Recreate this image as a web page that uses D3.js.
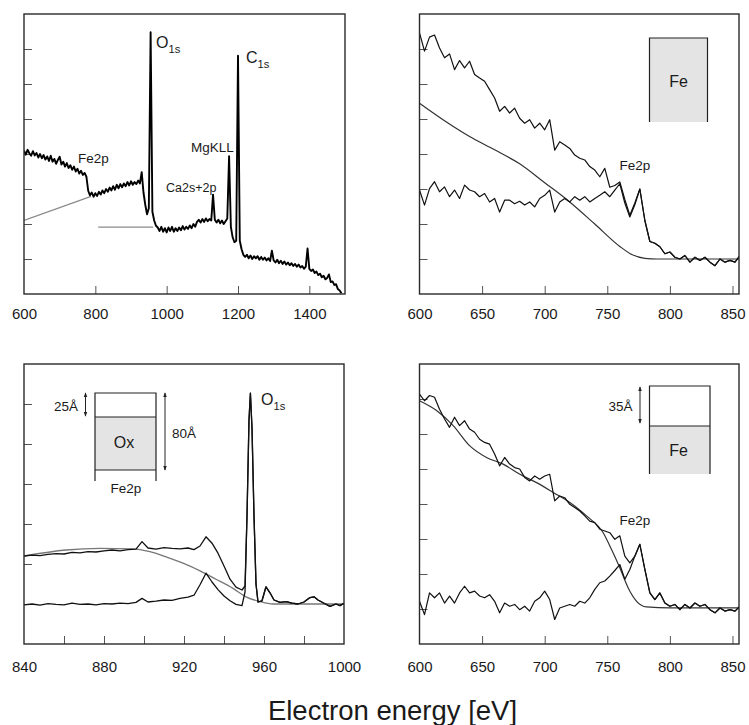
<!DOCTYPE html>
<html>
<head>
<meta charset="utf-8">
<script src="https://cdn.jsdelivr.net/npm/d3@7"></script>
<style>
  body { margin: 0; background: #fff; }
  svg text { font-family: "Liberation Sans", Arial, Helvetica, sans-serif; fill: #1a1a1a; }
</style>
</head>
<body>
<svg id="chart" width="749" height="725"></svg>
<script>
// ---------- data ----------

// survey spectrum, 600..1490 eV every 5 eV
const surveyStart = 600, surveyStep = 5;
const surveyCounts = [
  4.10,3.98,4.12,4.02,3.95,4.08,3.96,4.03,3.90,4.00,
  3.88,3.97,3.84,3.93,3.80,3.95,3.78,3.86,3.72,3.83,
  3.92,3.70,3.78,3.64,3.74,3.60,3.68,3.55,3.64,3.50,
  3.58,3.44,3.52,3.40,3.46,3.35,2.95,2.82,2.90,2.78,
  2.88,2.80,2.92,2.84,2.96,2.88,3.00,2.92,3.04,2.96,
  3.08,2.98,3.12,3.02,3.14,3.05,3.16,3.08,3.20,3.10,
  3.22,3.12,3.20,3.14,3.24,3.16,3.48,2.90,2.55,2.28,
  2.45,7.48,2.35,2.10,1.95,1.90,1.80,1.92,1.78,1.88,
  1.76,1.90,1.80,1.92,1.78,1.88,1.80,1.90,1.82,1.94,
  1.84,1.92,1.86,1.96,1.88,2.00,1.92,2.06,2.12,2.04,
  2.14,2.06,2.16,2.08,2.14,2.10,2.84,2.12,2.04,2.12,
  2.02,2.10,2.00,2.08,2.16,3.94,1.92,1.62,1.48,1.52,
  6.81,1.52,1.28,1.12,1.06,1.12,1.02,1.10,1.00,1.08,
  1.02,1.08,0.98,1.06,0.98,1.04,0.96,1.02,0.94,1.24,
  0.96,0.90,0.98,0.88,0.95,0.86,0.93,0.84,0.90,0.82,
  0.88,0.80,0.86,0.78,0.84,0.76,0.80,0.72,0.78,1.30,
  0.72,0.66,0.70,0.60,0.64,0.54,0.58,0.48,0.52,0.42,
  0.46,0.56,0.34,0.36,0.26,0.28,0.14,0.10,0.02
];
const surveyBgSlope = [[600, 2.10], [788, 2.79]];
const surveyBgFlat = [[808, 1.91], [962, 1.91]];

// Fe2p windows, 600..856 eV every 4 eV
const fe2pStart = 600, fe2pStep = 4;
const bareFeUpper = [
  7.46,6.94,7.34,7.40,7.03,6.75,6.86,6.41,6.67,6.46,
  6.65,6.27,6.17,6.08,5.84,5.60,5.22,5.36,5.17,5.31,
  5.02,4.88,4.98,4.74,4.88,4.69,4.98,4.11,4.35,4.26,
  4.16,3.97,3.88,3.83,3.64,3.54,3.35,3.59,3.05,3.10,
  3.20,2.70,2.25,2.60,3.00,2.10,1.50,1.45,1.35,1.15,
  1.20,1.05,1.00,1.10,0.91,1.05,0.96,1.05,0.91,0.81,
  1.00,0.91,0.96,0.91,1.10
];
const bareFeLower = [
  2.97,2.54,3.01,3.21,2.92,3.06,2.78,2.97,2.73,3.11,
  2.97,2.92,2.78,2.87,2.63,2.73,2.34,2.68,2.68,2.58,
  2.65,2.54,2.63,2.49,2.73,2.82,2.97,2.34,2.63,2.73,
  2.63,2.78,2.68,2.78,2.63,2.73,2.82,2.92,2.78,2.97,
  3.15,2.60,2.20,2.55,3.00,2.10,1.50,1.45,1.35,1.15,
  1.20,1.05,1.00,1.10,0.91,1.05,0.96,1.05,0.91,0.81,
  1.00,0.91,0.96,0.91,1.10
];
const bareFeBackground = [
  [600,5.45],[620,4.95],[640,4.50],[660,4.12],[680,3.72],[700,3.18],
  [720,2.63],[740,2.00],[760,1.36],[770,1.12],[780,1.02],[790,1.00],[856,1.00]
];

const coveredFeUpper = [
  7.14,6.95,7.10,7.05,6.71,6.43,6.19,6.48,6.24,6.38,
  6.14,6.05,5.85,5.76,5.71,5.43,5.09,5.33,5.14,5.04,
  5.00,4.76,4.66,4.80,4.71,4.80,4.85,4.09,4.23,4.18,
  3.99,3.90,3.80,3.66,3.51,3.47,3.28,3.23,3.18,2.99,
  3.09,2.51,2.32,2.51,2.85,2.13,1.46,1.27,1.46,1.17,
  1.08,1.13,0.98,1.13,1.03,1.17,1.08,1.13,0.98,0.89,
  1.03,0.94,0.98,0.94,1.08
];
const coveredFeLower = [
  1.22,0.84,1.46,1.32,1.46,1.17,1.37,1.17,1.46,1.65,
  1.46,1.51,1.37,1.32,1.41,1.22,0.89,1.17,1.08,1.13,
  0.98,1.08,0.94,1.22,1.32,1.51,1.27,0.70,1.03,1.08,
  1.13,1.08,1.22,1.17,1.32,1.56,1.75,1.80,1.94,2.10,
  2.27,1.85,2.13,2.51,2.85,2.13,1.46,1.27,1.46,1.17,
  1.08,1.13,0.98,1.13,1.03,1.17,1.08,1.13,0.98,0.89,
  1.03,0.94,0.98,0.94,1.08
];
const coveredFeBackground = [
  [600,6.95],[613.6,6.67],[626.9,6.24],[640.2,5.66],[653.5,5.33],[666.8,5.14],
  [680.2,4.85],[693.5,4.61],[706.8,4.33],[720.1,4.04],[733.4,3.66],[746.7,3.18],
  [753.4,2.70],[760,2.18],[766.7,1.60],[773.4,1.22],[781.3,1.06],[800,1.03],[856,1.03]
];

// oxide window, [energy, counts]
const oxideUpper = [
  [840,2.20],[844,2.22],[848,2.21],[852,2.24],[856,2.26],[860,2.25],[864,2.29],[868,2.28],
  [872,2.31],[876,2.30],[880,2.33],[884,2.35],[888,2.33],[892,2.36],[896,2.37],[899,2.56],
  [902,2.40],[906,2.37],[910,2.41],[914,2.39],[918,2.38],[922,2.40],[925,2.36],[928,2.45],
  [931,2.68],[934,2.52],[937,2.27],[940,1.95],[943,1.62],[946,1.42],[949,1.35],[950.5,1.45],
  [951.5,3.2],[952.5,5.6],[953.2,6.27],[954,5.4],[955,3.2],[956,1.5],[957,1.05],[959,1.08],
  [961,1.43],[963,1.28],[965,1.10],[968,1.04],[971,1.06],[974,1.02],[977,1.00],[980,1.05],
  [983,1.16],[985,1.18],[987,1.10],[990,1.02],[993,0.94],[996,1.00],[998,0.96],[1000,1.02]
];
const oxideLower = [
  [840,0.98],[844,1.00],[848,0.97],[852,1.01],[856,0.99],[860,0.98],[864,1.02],[868,0.99],
  [872,1.00],[876,0.98],[880,1.01],[884,1.00],[888,1.02],[892,1.01],[896,1.04],[899,1.14],
  [902,1.05],[906,1.07],[910,1.10],[914,1.09],[918,1.14],[922,1.17],[925,1.22],[928,1.48],
  [931,1.77],[934,1.55],[937,1.36],[940,1.20],[943,1.08],[946,0.99],[949,0.96],[950.5,1.30],
  [951.5,3.2],[952.5,5.6],[953.2,6.27],[954,5.4],[955,3.2],[956,1.5],[957,1.05],[959,1.08],
  [961,1.43],[963,1.28],[965,1.10],[968,1.04],[971,1.06],[974,1.02],[977,1.00],[980,1.05],
  [983,1.16],[985,1.18],[987,1.10],[990,1.02],[993,0.94],[996,1.00],[998,0.96],[1000,1.02]
];
const oxideBackground = [
  [840,2.20],[861,2.35],[878,2.39],[894,2.38],[903,2.31],[911,2.18],[919.5,2.02],
  [928,1.83],[936,1.62],[944.5,1.39],[951,1.18],[958,1.06],[964.5,1.00],[1000,1.00]
];

// ticks
const surveyLabels = [600, 800, 1000, 1200, 1400];
const surveyTicks = [800, 1000, 1200, 1400];
const fe2pLabels = [600, 650, 700, 750, 800, 850];
const fe2pTicks = [650, 700, 750, 800, 850];
const oxideLabels = [840, 880, 920, 960, 1000];
const oxideTicks = [860, 880, 900, 920, 940, 960, 980];
const yTicks8 = [1, 2, 3, 4, 5, 6, 7];
const yTicks7 = [1, 2, 3, 4, 5, 6];

// ---------- drawing ----------
const svg = d3.select("#chart");
const defs = svg.append("defs");
defs.append("marker")
  .attr("id", "head")
  .attr("viewBox", "0 0 6 6")
  .attr("refX", 5).attr("refY", 3)
  .attr("markerWidth", 5).attr("markerHeight", 5)
  .attr("markerUnits", "userSpaceOnUse")
  .attr("orient", "auto-start-reverse")
  .append("path").attr("d", "M0,0.8 L6,3 L0,5.2 Z").attr("fill", "#222");

const grid = (start, step, vals) => vals.map((v, i) => [start + i * step, v]);

let clipId = 0;
function panel(o) {
  const g = svg.append("g").attr("transform", `translate(${o.left},${o.top})`);
  const x = d3.scaleLinear().domain(o.xDomain).range([0, o.width]);
  const y = d3.scaleLinear().domain(o.yDomain).range([o.height, 0]);

  // inward tick marks
  const xt = g.append("g").attr("transform", `translate(0,${o.height})`)
    .call(d3.axisBottom(x).tickValues(o.xTicks).tickSizeInner(-8).tickSizeOuter(0).tickFormat(""));
  const yt = g.append("g")
    .call(d3.axisLeft(y).tickValues(o.yTicks).tickSizeInner(-8).tickSizeOuter(0).tickFormat(""));
  [xt, yt].forEach(a => {
    a.select(".domain").remove();
    a.selectAll(".tick line").attr("stroke", "#555").attr("stroke-width", 1);
  });

  // tick labels
  const xl = g.append("g").attr("transform", `translate(0,${o.height})`)
    .call(d3.axisBottom(x).tickValues(o.xLabels).tickSize(0).tickPadding(o.labelPad).tickFormat(d3.format("d")));
  xl.select(".domain").remove();
  xl.selectAll("text").attr("font-size", 15).attr("fill", "#1a1a1a")
    .attr("font-family", "'Liberation Sans', Arial, sans-serif");

  const id = "clip" + (clipId++);
  defs.append("clipPath").attr("id", id)
    .append("rect").attr("width", o.width).attr("height", o.height);
  const plot = g.append("g").attr("clip-path", `url(#${id})`);

  g.append("rect")
    .attr("width", o.width).attr("height", o.height)
    .attr("fill", "none").attr("stroke", "#2a2a2a").attr("stroke-width", 1.4);

  const line = d3.line().x(d => x(d[0])).y(d => y(d[1]));
  const smooth = d3.line().x(d => x(d[0])).y(d => y(d[1])).curve(d3.curveMonotoneX);
  return { g, x, y, plot, line, smooth };
}

function addLine(p, data, color, width, smooth) {
  p.plot.append("path").datum(data)
    .attr("fill", "none").attr("stroke", color).attr("stroke-width", width)
    .attr("stroke-linejoin", "round")
    .attr("d", smooth ? p.smooth : p.line);
}

function subLabel(g, x, y, main, sub, size) {
  const t = g.append("text").attr("x", x).attr("y", y).attr("font-size", size);
  t.append("tspan").text(main);
  t.append("tspan").attr("font-size", size * 0.7).attr("dy", 5).text(sub);
}

function label(g, x, y, txt, size, anchor) {
  g.append("text").attr("x", x).attr("y", y).attr("font-size", size)
    .attr("text-anchor", anchor || "start").text(txt);
}

function vArrow(g, x, y1, y2) {
  g.append("line").attr("x1", x).attr("x2", x).attr("y1", y1).attr("y2", y2)
    .attr("stroke", "#222").attr("stroke-width", 1)
    .attr("marker-start", "url(#head)").attr("marker-end", "url(#head)");
}

// top-left: survey
const tl = panel({ left: 24, top: 14, width: 321, height: 280,
  xDomain: [600, 1500], yDomain: [0, 8], xTicks: surveyTicks, xLabels: surveyLabels,
  yTicks: yTicks8, labelPad: 14 });
addLine(tl, surveyBgSlope, "#8a8a8a", 1.2);
addLine(tl, surveyBgFlat, "#8a8a8a", 1.2);
addLine(tl, grid(surveyStart, surveyStep, surveyCounts), "#000", 1.9);
subLabel(tl.g, 132, 34, "O", "1s", 16);
subLabel(tl.g, 222, 49, "C", "1s", 16);
label(tl.g, 167, 138, "MgKLL", 13.5);
label(tl.g, 54, 149, "Fe2p", 13.5);
label(tl.g, 142, 178, "Ca2s+2p", 12.5);

// top-right: bare Fe
const tr = panel({ left: 419.5, top: 14, width: 319.5, height: 280,
  xDomain: [600, 855.2], yDomain: [0, 8], xTicks: fe2pTicks, xLabels: fe2pLabels,
  yTicks: yTicks8, labelPad: 14 });
addLine(tr, bareFeBackground, "#333", 1.2, true);
addLine(tr, grid(fe2pStart, fe2pStep, bareFeLower), "#111", 1.2);
addLine(tr, grid(fe2pStart, fe2pStep, bareFeUpper), "#111", 1.2);
tr.g.append("rect").attr("x", 230).attr("y", 24).attr("width", 58).attr("height", 84)
  .attr("fill", "#e4e4e4");
tr.g.append("path").attr("d", "M230,108V24H288V108")
  .attr("fill", "none").attr("stroke", "#222").attr("stroke-width", 1.2);
label(tr.g, 259, 73, "Fe", 16, "middle");
label(tr.g, 215.5, 156, "Fe2p", 13.5, "middle");

// bottom-left: oxide layer
const bl = panel({ left: 24, top: 364, width: 320, height: 280,
  xDomain: [840, 1000], yDomain: [0, 7], xTicks: oxideTicks, xLabels: oxideLabels,
  yTicks: yTicks7, labelPad: 17 });
addLine(bl, oxideBackground, "#777", 1.3, true);
addLine(bl, oxideLower, "#111", 1.3);
addLine(bl, oxideUpper, "#111", 1.3);
bl.g.append("rect").attr("x", 71).attr("y", 53).attr("width", 61).attr("height", 53)
  .attr("fill", "#e4e4e4");
bl.g.append("path").attr("d", "M71,117V29H132V117M71,53H132M71,106H132")
  .attr("fill", "none").attr("stroke", "#222").attr("stroke-width", 1.2);
label(bl.g, 100, 84, "Ox", 16, "middle");
label(bl.g, 54, 47, "25Å", 13.5, "end");
vArrow(bl.g, 61.5, 29, 52);
label(bl.g, 148, 74, "80Å", 13.5);
vArrow(bl.g, 141, 29, 106);
label(bl.g, 102, 129, "Fe2p", 13.5, "middle");
subLabel(bl.g, 237, 41, "O", "1s", 16);

// bottom-right: Fe under 35 Å
const br = panel({ left: 419.5, top: 364, width: 319.5, height: 280,
  xDomain: [600, 855.2], yDomain: [0, 8], xTicks: fe2pTicks, xLabels: fe2pLabels,
  yTicks: yTicks8, labelPad: 17 });
addLine(br, coveredFeBackground, "#333", 1.2, true);
addLine(br, grid(fe2pStart, fe2pStep, coveredFeLower), "#111", 1.2);
addLine(br, grid(fe2pStart, fe2pStep, coveredFeUpper), "#111", 1.2);
br.g.append("rect").attr("x", 230).attr("y", 62).attr("width", 60.5).attr("height", 48)
  .attr("fill", "#e4e4e4");
br.g.append("path").attr("d", "M230,110V22H290.5V110M230,62H290.5")
  .attr("fill", "none").attr("stroke", "#222").attr("stroke-width", 1.2);
label(br.g, 259, 92, "Fe", 16, "middle");
label(br.g, 213, 47, "35Å", 13.5, "end");
vArrow(br.g, 220.5, 23, 59);
label(br.g, 215.5, 161, "Fe2p", 13.5, "middle");

// common x title
svg.append("text").attr("x", 392.5).attr("y", 720)
  .attr("text-anchor", "middle").attr("font-size", 27.5)
  .text("Electron energy [eV]");
</script>
</body>
</html>
